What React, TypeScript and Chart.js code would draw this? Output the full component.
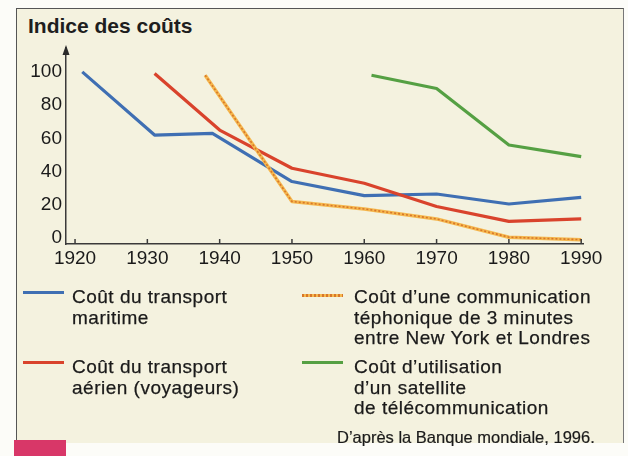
import React, { useEffect, useRef } from "react";
import { Chart, registerables } from "chart.js";

Chart.register(...registerables);

// ---- Data ----
const decadeTicks = [1920, 1930, 1940, 1950, 1960, 1970, 1980, 1990];
const indexTicks = [0, 20, 40, 60, 80, 100];

const maritimeYears = [1921, 1931, 1939, 1950, 1960, 1970, 1980, 1990];
const maritimeValues = [100, 62, 63, 34, 25.5, 26.5, 20.5, 24.5];

const aerienYears = [1931, 1940, 1950, 1960, 1970, 1980, 1990];
const aerienValues = [99, 65, 42, 33, 19, 10, 11.5];

const telephoneYears = [1938, 1950, 1960, 1970, 1980, 1990];
const telephoneValues = [98, 22, 17.5, 11.5, 0.5, -1];

const satelliteYears = [1961, 1970, 1980, 1990];
const satelliteValues = [98, 90, 56, 49];

const titleText = "Indice des coûts";
const sourceText = "D\u2019après la Banque mondiale, 1996.";

const legendItems = [
  { key: "maritime", color: "#3f6fb3", dashed: false, lines: ["Coût du transport", "maritime"], left: 23, top: 291, textLeft: 72, textTop: 287 },
  { key: "telephone", color: "#f4b24a", dashed: true, lines: ["Coût d\u2019une communication", "téphonique de 3 minutes", "entre New York et Londres"], left: 302, top: 294, textLeft: 354, textTop: 287 },
  { key: "aerien", color: "#d9432c", dashed: false, lines: ["Coût du transport", "aérien (voyageurs)"], left: 23, top: 361, textLeft: 72, textTop: 357 },
  { key: "satellite", color: "#55a043", dashed: false, lines: ["Coût d\u2019utilisation", "d\u2019un satellite", "de télécommunication"], left: 302, top: 361, textLeft: 354, textTop: 357 },
];

const toPoints = (xs: number[], ys: number[]) => xs.map((x, i) => ({ x, y: ys[i] }));

const FONT = "'Liberation Sans', Arial, Helvetica, sans-serif";

const axisDecor = {
  id: "axisDecor",
  afterDraw(chart: any) {
    const { ctx, chartArea, scales } = chart;
    const xs = scales.x;
    ctx.save();
    ctx.strokeStyle = "#3a3a3a";
    ctx.lineWidth = 1.5;
    decadeTicks.forEach((yr) => {
      const px = xs.getPixelForValue(yr);
      ctx.beginPath();
      ctx.moveTo(px, chartArea.bottom);
      ctx.lineTo(px, chartArea.bottom - 5);
      ctx.stroke();
    });
    ctx.fillStyle = "#2a2a2a";
    const ax = chartArea.left;
    const ay = chartArea.top;
    ctx.beginPath();
    ctx.moveTo(ax, ay - 3);
    ctx.lineTo(ax - 3.5, ay + 7);
    ctx.lineTo(ax + 3.5, ay + 7);
    ctx.closePath();
    ctx.fill();
    ctx.restore();
  },
};

function ChartCanvas() {
  const ref = useRef<HTMLCanvasElement | null>(null);
  useEffect(() => {
    if (!ref.current) return;
    const chart = new Chart(ref.current, {
      type: "line",
      data: {
        datasets: [
          {
            label: "telephone-dash",
            data: toPoints(telephoneYears, telephoneValues),
            borderColor: "#d8772a",
            borderWidth: 1.6,
            borderDash: [2, 2],
            pointRadius: 0,
            tension: 0,
          },
          {
            label: "telephone",
            data: toPoints(telephoneYears, telephoneValues),
            borderColor: "#f5b84f",
            borderWidth: 3.5,
            pointRadius: 0,
            tension: 0,
            borderJoinStyle: "round",
          },
          {
            label: "aerien",
            data: toPoints(aerienYears, aerienValues),
            borderColor: "#d9432c",
            borderWidth: 3.2,
            pointRadius: 0,
            tension: 0,
            borderJoinStyle: "round",
          },
          {
            label: "maritime",
            data: toPoints(maritimeYears, maritimeValues),
            borderColor: "#3f6fb3",
            borderWidth: 3.2,
            pointRadius: 0,
            tension: 0,
            borderJoinStyle: "round",
          },
          {
            label: "satellite",
            data: toPoints(satelliteYears, satelliteValues),
            borderColor: "#55a043",
            borderWidth: 3.2,
            pointRadius: 0,
            tension: 0,
            borderJoinStyle: "round",
          },
        ],
      },
      options: {
        animation: false,
        responsive: false,
        devicePixelRatio: 1,
        layout: { padding: { left: 0, top: 48, right: 45, bottom: 182 } },
        plugins: { legend: { display: false }, tooltip: { enabled: false } },
        scales: {
          x: {
            type: "linear",
            min: 1918.75,
            max: 1990.25,
            afterFit: (s: any) => {
              s.height = 30;
            },
            afterBuildTicks: (s: any) => {
              s.ticks = decadeTicks.map((v) => ({ value: v }));
            },
            grid: { display: false, drawTicks: false },
            border: { display: true, color: "#3a3a3a", width: 1.5 },
            ticks: {
              padding: 3,
              color: "#1a1a1a",
              font: { family: FONT, size: 19 },
              callback: (v: any) => String(v),
              maxRotation: 0,
              autoSkip: false,
            },
          },
          y: {
            type: "linear",
            min: -3.6,
            max: 114.4,
            afterFit: (s: any) => {
              s.width = 66;
            },
            afterBuildTicks: (s: any) => {
              s.ticks = indexTicks.map((v) => ({ value: v }));
            },
            grid: { display: false, drawTicks: false },
            border: { display: true, color: "#3a3a3a", width: 1.5 },
            ticks: {
              padding: 4,
              color: "#1a1a1a",
              font: { family: FONT, size: 19 },
              callback: (v: any) => String(v),
            },
          },
        },
      },
      plugins: [axisDecor],
    } as any);
    return () => chart.destroy();
  }, []);
  return (
    <canvas
      ref={ref}
      width={628}
      height={456}
      style={{ position: "absolute", left: 0, top: 0, width: 628, height: 456, display: "block" }}
    />
  );
}

export default function App() {
  return (
    <div
      style={{
        position: "fixed",
        left: 0,
        top: 0,
        width: 628,
        height: 456,
        background: "#fcfcf8",
        overflow: "hidden",
        fontFamily: FONT,
      }}
    >
      <div
        style={{
          position: "absolute",
          left: 16,
          top: 8,
          width: 606,
          height: 434,
          background: "#f4f2df",
          borderLeft: "1.5px solid #555",
          borderTop: "1.5px solid #555",
          borderRight: "1.5px solid #777",
        }}
      />
      <div
        style={{
          position: "absolute",
          left: 14,
          top: 440,
          width: 52,
          height: 16,
          background: "#d83768",
        }}
      />
      <div
        style={{
          position: "absolute",
          left: 28,
          top: 15,
          fontSize: 21,
          lineHeight: "21px",
          fontWeight: "bold",
          color: "#1e1e1e",
          whiteSpace: "nowrap",
        }}
      >
        {titleText}
      </div>
      <ChartCanvas />
      {legendItems.map((it) => (
        <React.Fragment key={it.key}>
          <div
            style={{
              position: "absolute",
              left: it.left,
              top: it.top,
              width: 41,
              height: 3,
              background: it.dashed
                ? "repeating-linear-gradient(90deg, #d8772a 0 2px, #f5b84f 2px 4px)"
                : it.color,
            }}
          />
          <div
            style={{
              position: "absolute",
              left: it.textLeft,
              top: it.textTop,
              fontSize: 19,
              lineHeight: "20.5px",
              letterSpacing: "0.5px",
              color: "#1a1a1a",
              WebkitTextStroke: "0.25px #1a1a1a",
              whiteSpace: "nowrap",
            }}
          >
            {it.lines.map((l, i) => (
              <div key={i}>{l}</div>
            ))}
          </div>
        </React.Fragment>
      ))}
      <div
        style={{
          position: "absolute",
          left: 337,
          top: 427,
          fontSize: 16.5,
          lineHeight: "20px",
          color: "#1a1a1a",
          WebkitTextStroke: "0.2px #1a1a1a",
          whiteSpace: "nowrap",
        }}
      >
        {sourceText}
      </div>
    </div>
  );
}
